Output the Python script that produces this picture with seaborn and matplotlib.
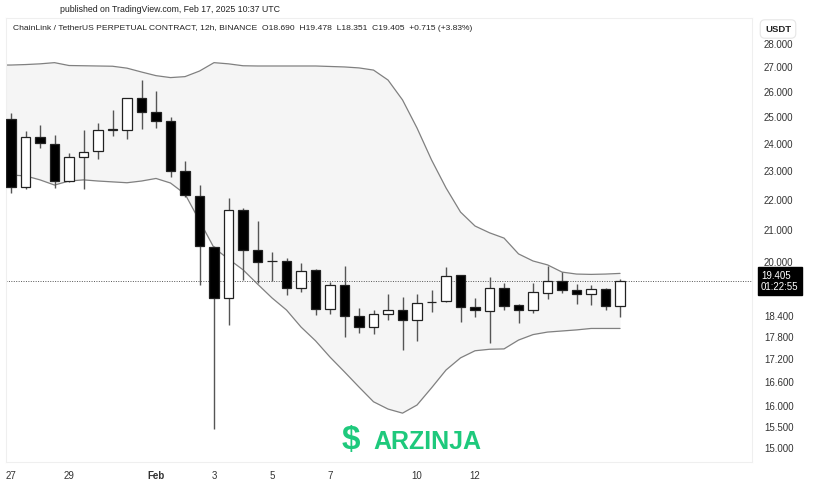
"""LINK/USDT 12h candles with Bollinger bands, TradingView-like snapshot."""

import matplotlib
matplotlib.use("Agg")
import matplotlib.pyplot as plt
import matplotlib.transforms as mtransforms
import numpy as np
import pandas as pd
import seaborn as sns
from matplotlib.ticker import FixedLocator, FuncFormatter, NullLocator

# ---- data --------------------------------------------------------------
dates = pd.date_range("2025-01-27", periods=43, freq="12h")
opens = [24.92, 22.45, 24.24, 23.99, 22.64, 23.50, 23.71, 24.52, 24.50, 25.74,
         25.21, 24.83, 23.00, 22.14, 20.47, 18.92, 21.67, 20.36, 20.02, 20.02,
         19.20, 19.74, 18.59, 19.30, 18.38, 18.07, 18.45, 18.55, 18.27, 18.79,
         18.81, 19.59, 18.66, 18.54, 19.21, 18.70, 18.55, 19.06, 19.40, 19.14,
         19.03, 19.17, 18.690]
highs = [25.17, 24.47, 24.70, 24.31, 23.64, 24.50, 24.79, 25.26, 25.76, 26.49,
         26.03, 24.99, 23.35, 22.50, 20.48, 22.06, 21.72, 21.30, 20.30, 20.11,
         19.95, 19.77, 19.39, 19.87, 18.63, 18.55, 19.03, 18.95, 19.02, 19.15,
         19.82, 19.60, 18.90, 19.52, 19.35, 18.73, 19.36, 19.87, 19.68, 19.31,
         19.28, 19.20, 19.478]
lows = [22.23, 22.36, 23.84, 22.40, 22.62, 22.36, 23.45, 24.27, 24.18, 24.56,
        24.58, 22.80, 22.10, 19.29, 15.45, 18.14, 19.44, 19.36, 19.42, 19.00,
        19.08, 18.42, 18.45, 17.81, 17.92, 17.89, 18.28, 17.45, 17.69, 18.50,
        18.80, 18.23, 18.36, 17.65, 18.56, 18.19, 18.47, 18.88, 19.05, 18.74,
        18.71, 18.56, 18.351]
closes = [22.45, 24.24, 24.01, 22.64, 23.50, 23.69, 24.52, 24.54, 25.74, 25.20,
          24.84, 23.00, 22.16, 20.48, 18.92, 21.67, 20.36, 20.00, 20.01, 19.20,
          19.72, 18.59, 19.29, 18.39, 18.08, 18.44, 18.56, 18.27, 18.76, 18.80,
          19.57, 18.66, 18.56, 19.21, 18.69, 18.56, 19.07, 19.40, 19.14, 19.02,
          19.17, 18.69, 19.405]

# Bollinger bands start one bar before the first visible candle
band_dates = pd.date_range("2025-01-26 12:00", periods=44, freq="12h")
band_upper = [27.09, 27.09, 27.11, 27.14, 27.19, 27.07, 27.06, 27.05, 27.04, 26.96,
              26.80, 26.65, 26.57, 26.61, 26.84, 27.19, 27.14, 27.06, 27.05, 27.05,
              27.05, 27.05, 27.05, 27.03, 27.01, 26.97, 26.88, 26.47, 25.67, 24.58,
              23.40, 22.41, 21.59, 21.13, 20.91, 20.74, 20.24, 20.02, 19.90, 19.68,
              19.62, 19.61, 19.62, 19.64]
band_lower = [22.86, 22.86, 22.83, 22.69, 22.51, 22.65, 22.69, 22.65, 22.62, 22.59,
              22.65, 22.74, 22.58, 22.20, 21.30, 20.43, 20.08, 19.75, 19.32, 18.91,
              18.56, 18.08, 17.70, 17.26, 16.87, 16.48, 16.11, 15.93, 15.83, 16.03,
              16.46, 16.92, 17.24, 17.43, 17.47, 17.48, 17.72, 17.87, 17.94, 17.97,
              18.00, 18.04, 18.04, 18.04]

price_ticks = [28, 27, 26, 25, 24, 23, 22, 21, 20, 18.4, 17.8, 17.2, 16.6, 16, 15.5, 15]
day_ticks = pd.to_datetime(["2025-01-27", "2025-01-29", "2025-02-01", "2025-02-03",
                            "2025-02-05", "2025-02-07", "2025-02-10", "2025-02-12"])
day_labels = ["27", "29", "Feb", "3", "5", "7", "10", "12"]
last_price = 19.405
countdown = "01:22:55"

header = "published on TradingView.com, Feb 17, 2025 10:37 UTC"
title = ("ChainLink / TetherUS PERPETUAL CONTRACT, 12h, BINANCE  O18.690  H19.478  "
         "L18.351  C19.405  +0.715 (+3.83%)")

# ---- drawing ----------------------------------------------------------------
sns.set_style("white")
plt.rcParams["font.family"] = ["Liberation Sans", "DejaVu Sans"]

bar = pd.Timedelta("12h")
df = pd.DataFrame({"date": dates, "open": opens, "high": highs, "low": lows, "close": closes})
df["x"] = (df["date"] - dates[0]) / bar
bands = pd.DataFrame({"x": (band_dates - dates[0]) / bar, "upper": band_upper, "lower": band_lower})

W, H = 816, 487
fig = plt.figure(figsize=(W / 100, H / 100), dpi=100)
ax = fig.add_axes([6 / W, 25 / H, 746 / W, 444 / H])
ax.set_yscale("log")

ax.fill_between(bands["x"], bands["lower"], bands["upper"], color="#f5f5f5", lw=0, zorder=0)
sns.lineplot(data=bands, x="x", y="upper", color="#808080", lw=0.9, ax=ax, zorder=1)
sns.lineplot(data=bands, x="x", y="lower", color="#808080", lw=0.9, ax=ax, zorder=1)

up = df["close"] >= df["open"]
ax.vlines(df["x"], df["low"], df["high"], color="#555555", lw=1.0, zorder=2)
ax.bar(df["x"], (df["close"] - df["open"]).abs(), bottom=df[["open", "close"]].min(axis=1),
       width=0.64, color=np.where(up, "white", "black"), edgecolor="#222222",
       linewidth=0.9, zorder=3)

ax.axhline(last_price, color="#555555", lw=0.7, ls=(0, (1, 1.5)), zorder=1)

ax.set_xlim(-0.345, 51.1)
ax.set_ylim(14.68, 29.13)
ax.set_xlabel("")
ax.set_ylabel("")

ax.yaxis.tick_right()
ax.yaxis.set_major_locator(FixedLocator(price_ticks))
ax.yaxis.set_minor_locator(NullLocator())
ax.yaxis.set_major_formatter(FuncFormatter(lambda v, _: f"{v:.3f}"))
ax.tick_params(axis="y", length=0, pad=8.6, labelsize=7, labelcolor="#333333")

ax.set_xticks((day_ticks - dates[0]) / bar)
ax.set_xticklabels(day_labels)
ax.tick_params(axis="x", length=0, pad=6.5, labelsize=7, labelcolor="#333333")
for lbl in ax.get_xticklabels():
    if lbl.get_text() == "Feb":
        lbl.set_fontweight("bold")

for side in ["top", "bottom", "left", "right"]:
    ax.spines[side].set_color("#efefef")
    ax.spines[side].set_linewidth(0.8)

# last price tag on the price scale
trans = mtransforms.blended_transform_factory(ax.transAxes, ax.transData)
ax.text(1 + 9 / 746, last_price, f"{last_price:.3f}\n{countdown}", transform=trans,
        ha="left", va="center", color="white", fontsize=7, linespacing=1.1,
        bbox=dict(boxstyle="square,pad=0.35", fc="black", ec="black"), clip_on=False)

fig.text(778 / W, 1 - 29 / H, "USDT", ha="center", va="center", fontsize=6.8,
         color="#222222", fontweight="bold",
         bbox=dict(boxstyle="round,pad=0.5", fc="white", ec="#e6e6e6", lw=0.8))

fig.text(60 / W, 1 - 10 / H, header, ha="left", va="center", fontsize=6.3, color="#222222")
fig.text(13 / W, 1 - 28 / H, title, ha="left", va="center", fontsize=6.1, color="#222222")

# watermark
fig.text(351 / W, 1 - 440 / H, "$", ha="center", va="center", fontsize=24,
         fontweight="bold", color="#1ec97c")
fig.text(373 / W, 1 - 442 / H, "ARZINJA", ha="left", va="center", fontsize=18,
         fontweight="bold", color="#1ec97c")

fig.savefig("out.png", dpi=100)
plt.close(fig)
